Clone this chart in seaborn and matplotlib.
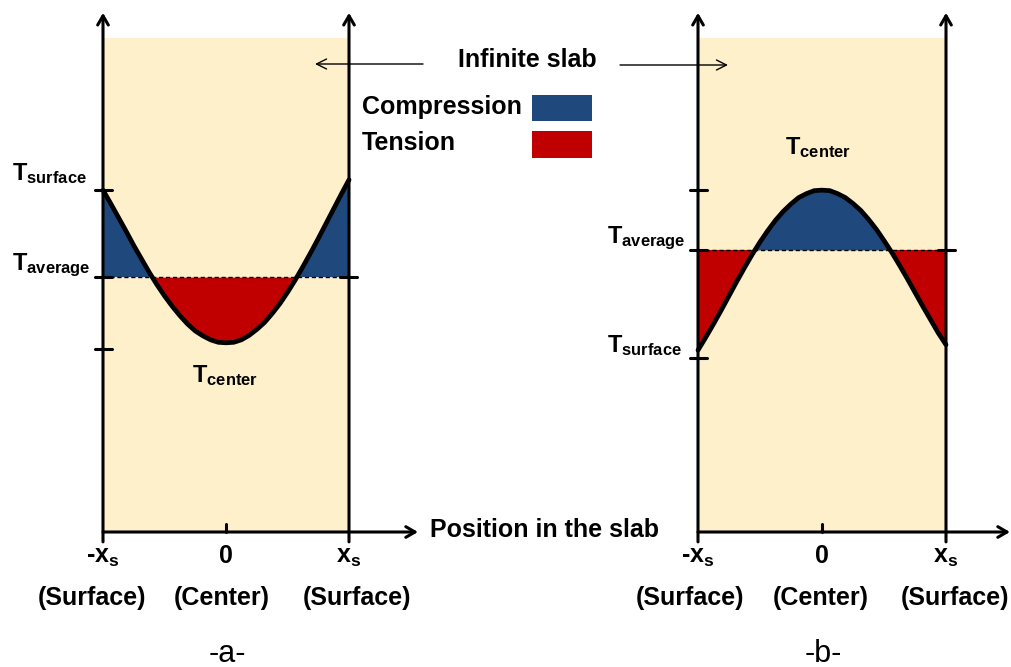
import numpy as np
import matplotlib
matplotlib.use("Agg")
import matplotlib.pyplot as plt
import seaborn as sns

# ---------------- data (schematic temperature profiles) ----------------
x_pos = [-1.0, -0.9375, -0.875, -0.8125, -0.75, -0.6875, -0.625, -0.5625,
         -0.5, -0.4375, -0.375, -0.3125, -0.25, -0.1875, -0.125, -0.0625, 0.0,
         0.0625, 0.125, 0.1875, 0.25, 0.3125, 0.375, 0.4375, 0.5,
         0.5625, 0.625, 0.6875, 0.75, 0.8125, 0.875, 0.9375, 1.0]
temp_a = [69.2, 66.5, 63.7, 60.9, 58.0, 55.3, 52.6, 50.1, 47.8, 45.7, 43.8,
          42.1, 40.7, 39.7, 38.9, 38.4, 38.3, 38.4, 38.9, 39.8, 41.0, 42.4,
          44.2, 46.2, 48.5, 51.0, 53.7, 56.5, 59.4, 62.4, 65.4, 68.4, 71.3]
temp_b = [36.8, 39.4, 42.1, 44.9, 47.8, 50.7, 53.5, 56.2, 58.7, 61.0, 63.1,
          64.9, 66.4, 67.7, 68.5, 69.1, 69.2, 69.1, 68.5, 67.7, 66.5, 65.1,
          63.3, 61.3, 59.0, 56.6, 54.0, 51.3, 48.5, 45.7, 43.0, 40.3, 37.9]
t_avg_a = 51.6
t_avg_b = 57.1
yticks_a = [69.2, 51.6, 37.0]
yticks_b = [69.2, 57.1, 35.3]
xticks = [-1, 0, 1]
xtick_labels = [r"-$\mathbf{x_s}$", "0", r"$\mathbf{x_s}$"]
xsub_labels = ["(Surface)", "(Center)", "(Surface)"]
legend_labels = ["Compression", "Tension"]

BEIGE = "#FFF0CC"
BLUE = "#1F497D"
RED = "#C00000"

# ---------------- setup ----------------
sns.set_theme(style="white")
plt.rcParams["font.family"] = ["Liberation Sans", "DejaVu Sans"]
plt.rcParams["mathtext.fontset"] = "custom"
plt.rcParams["mathtext.rm"] = "Liberation Sans"
plt.rcParams["mathtext.bf"] = "Liberation Sans:bold"
plt.rcParams["mathtext.it"] = "Liberation Sans:italic"

W, H = 1012, 667
Y0 = 532          # pixel row of the position axis
PX_PER_T = 4.94   # pixels per temperature unit

fig = plt.figure(figsize=(W / 100, H / 100), dpi=100)


def fx(px):
    return px / W


def fy(py):
    return 1 - py / H


def make_panel(left_px, right_px):
    ax = fig.add_axes([0, 0, 1, 1])
    ax.patch.set_alpha(0)
    ax.axis("off")
    scale = (right_px - left_px) / 2
    lims = ((-1 - left_px / scale, -1 + (W - left_px) / scale),
            (-(H - Y0) / PX_PER_T, Y0 / PX_PER_T))
    return ax, lims, scale


def draw_panel(ax, lims, scale, temps, avg, yticks, xend):
    x = np.array(x_pos)
    y = np.array(temps)
    ax.fill_between([-1, 1], 0, 100, color=BEIGE, lw=0, zorder=0)
    ax.fill_between(x, y, avg, where=y >= avg, interpolate=True,
                    color=BLUE, lw=0, zorder=1)
    ax.fill_between(x, y, avg, where=y <= avg, interpolate=True,
                    color=RED, lw=0, zorder=1)
    ax.plot([-1, 1], [avg, avg], color="black", lw=1.0,
            ls=(0, (3, 2)), zorder=2)
    sns.lineplot(x=x, y=y, ax=ax, color="black", lw=3.4, zorder=3,
                 solid_capstyle="round", solid_joinstyle="round")
    arrow = dict(arrowstyle="->,head_length=0.55,head_width=0.32",
                 lw=2.2, color="black", shrinkA=0, shrinkB=0)
    for xv in (-1, 1):
        ax.annotate("", xy=(xv, 105.1), xytext=(xv, -2.0),
                    arrowprops=arrow, zorder=4)
    ax.annotate("", xy=(xend, 0), xytext=(-1, 0), arrowprops=arrow, zorder=4)
    ax.plot([0, 0], [0, 1.6], color="black", lw=2.2, zorder=4)
    dx = 8.5 / scale
    for t in yticks:
        ax.plot([-1 - dx, -1 + dx], [t, t], color="black", lw=2.2, zorder=4)
    ax.plot([1 - dx, 1 + dx], [avg, avg], color="black", lw=2.2, zorder=4)
    ax.set_xlim(*lims[0])
    ax.set_ylim(*lims[1])
    ax.set_xlabel("")
    ax.set_ylabel("")


ax_a, lims_a, sc_a = make_panel(103, 349)
draw_panel(ax_a, lims_a, sc_a, temp_a, t_avg_a, yticks_a, 1 + (418 - 349) / sc_a)
ax_b, lims_b, sc_b = make_panel(698, 946)
draw_panel(ax_b, lims_b, sc_b, temp_b, t_avg_b, yticks_b, 1 + (1010 - 946) / sc_b)

FS = 18
bold = dict(fontsize=FS, fontweight="bold", color="black")


def label(px, py, s, ha="left", va="baseline", **kw):
    opts = dict(bold)
    opts.update(kw)
    fig.text(fx(px), fy(py), s, ha=ha, va=va, **opts)


# temperature labels
TFS = 17
label(12, 180, r"$\mathbf{T_{surface}}$", fontsize=TFS)
label(12, 270, r"$\mathbf{T_{average}}$", fontsize=TFS)
label(192, 382, r"$\mathbf{T_{center}}$", fontsize=TFS)
label(785, 154, r"$\mathbf{T_{center}}$", fontsize=TFS)
label(607, 243, r"$\mathbf{T_{average}}$", fontsize=TFS)
label(607, 352, r"$\mathbf{T_{surface}}$", fontsize=TFS)

# position tick labels
for cx_list in ([103, 226, 349], [698, 822, 946]):
    for cx, s in zip(cx_list, xtick_labels):
        label(cx, 563, s, ha="center")
label(92, 598, xsub_labels[0], ha="center", va="center")
label(222, 598, xsub_labels[1], ha="center", va="center")
label(357, 598, xsub_labels[2], ha="center", va="center")
label(690, 598, xsub_labels[0], ha="center", va="center")
label(821, 598, xsub_labels[1], ha="center", va="center")
label(955, 598, xsub_labels[2], ha="center", va="center")

fig.text(fx(227), fy(654), "-a-", ha="center", va="center", fontsize=22, color="black")
fig.text(fx(823), fy(654), "-b-", ha="center", va="center", fontsize=22, color="black")

label(430, 530, "Position in the slab", va="center")

# infinite slab title and arrows
label(527, 60, "Infinite slab", ha="center", va="center")
thin = dict(arrowstyle="->,head_length=0.6,head_width=0.3", lw=1.0,
            color="black", shrinkA=0, shrinkB=0)
ax_b.annotate("", xy=(315, H - 64), xytext=(423, H - 64),
              xycoords="figure pixels", textcoords="figure pixels",
              arrowprops=thin, zorder=5)
ax_b.annotate("", xy=(728, H - 65), xytext=(620, H - 65),
              xycoords="figure pixels", textcoords="figure pixels",
              arrowprops=thin, zorder=5)

# legend
label(362, 107, legend_labels[0], va="center")
label(362, 143, legend_labels[1], va="center")
for (top, bot), col in zip([(95, 121), (131, 158)], [BLUE, RED]):
    fig.patches.append(plt.Rectangle((fx(532), fy(bot)), fx(592) - fx(532),
                                     fy(top) - fy(bot), transform=fig.transFigure,
                                     facecolor=col, edgecolor="none", zorder=5))

fig.savefig("out.png", dpi=100, facecolor="white")
